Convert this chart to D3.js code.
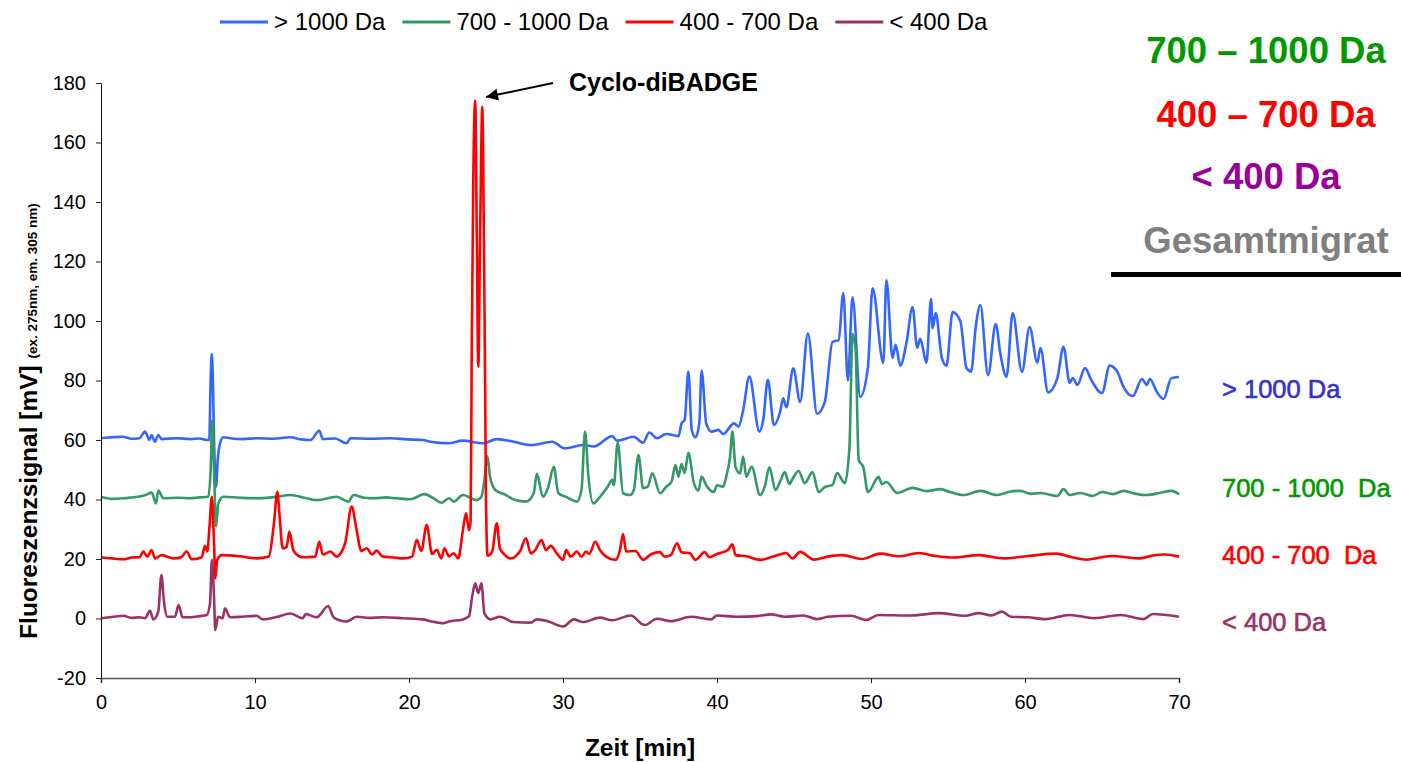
<!DOCTYPE html>
<html>
<head>
<meta charset="utf-8">
<script src="https://cdn.jsdelivr.net/npm/d3@7"></script>
<style>
  html, body { margin: 0; padding: 0; background: #fff; }
  svg text { font-family: "Liberation Sans", Arial, sans-serif; }
</style>
</head>
<body>
<svg id="chart" width="1401" height="762"></svg>
<script>
// Fluorescence traces of the four size fractions, [time in min, signal in mV]
const traceAbove1000 = [
  [0,60.6],[0.7,60.9],[1.4,61.1],[2.0,60.4],[2.5,60.6],[2.86,62.8],[3.14,60],[3.29,61.7],[3.5,59.4],[3.72,61.7],
  [3.94,60.3],[4.9,60.6],[5.8,60.3],[6.4,60.5],[6.86,60],[7.03,60],[7.12,80.2],[7.19,88.9],[7.25,83.5],[7.34,60],
  [7.47,44.3],[7.58,53.3],[7.73,58.9],[7.94,60.9],[8.38,60.6],[9.2,60.3],[10.1,60.6],[11.2,60.4],[12.3,60.9],[13.0,60.2],
  [13.6,60],[14.18,63.1],[14.4,60.3],[15.2,60.5],[15.95,58.9],[16.2,60.6],[17.5,60.4],[18.8,60.6],[19.9,60.2],[20.9,60],
  [21.4,59.4],[22.55,58.9],[23.5,59.8],[24.8,58.9],[25.7,60.3],[26.8,59.4],[27.9,58.3],[29.3,59.4],[30.1,57.2],[31.3,58.3],
  [32.0,57.8],[33.2,61.3],[33.5,59.8],[34.6,61.1],[35.2,59.1],[35.6,62.5],[36.1,60.6],[36.7,62.0],[37.5,61.3],[37.7,65.6],
  [37.9,66.7],[38.14,83.0],[38.36,63.4],[38.6,60.9],[38.85,65.6],[39.0,83.3],[39.3,65.6],[39.65,62.8],[40.1,63.4],[40.4,62.0],
  [41.1,65.6],[41.4,64.5],[41.7,70.1],[42.1,81.3],[42.75,62.8],[43.0,66.7],[43.3,80.2],[43.7,65.0],[44.1,69.5],[44.3,74],
  [44.5,71],[44.95,84.1],[45.4,72.8],[45.9,95.8],[46.5,68.8],[47.0,72.8],[47.5,93],[47.9,93.6],[48.2,109.4],[48.5,80],
  [48.8,108],[49.3,74.5],[49.8,84.5],[50.1,111],[50.8,85.9],[51.0,113.8],[51.4,87.6],[51.6,92],[51.9,85],[52.3,92.6],
  [52.7,104.7],[53.0,91],[53.2,94],[53.6,86],[53.9,107.4],[54.0,97.6],[54.2,102.7],[54.6,87.6],[54.9,85],[55.3,103],
  [55.8,100],[56.2,84.2],[56.5,83],[56.8,98],[57.1,105.4],[57.6,81.8],[58.1,99],[58.4,89],[58.8,81.2],[59.2,102.7],
  [59.8,82.9],[60.3,98],[60.8,86],[61.0,90.9],[61.5,76],[62.1,80.8],[62.5,91.3],[62.9,79.2],[63.1,80.8],[63.4,78.5],
  [63.9,84.2],[64.3,80.2],[65.0,75.8],[65.5,85],[66.0,82.9],[66.4,77.8],[67.0,74.8],[67.6,80.5],[67.9,78.5],[68.1,80.5],
  [68.6,75.8],[69.0,73.8],[69.5,80.8],[70,81.2]
];

const trace700to1000 = [
  [0,40.9],[0.7,40.2],[1.45,40.4],[2.0,40.7],[2.5,41],[2.9,41.5],[3.29,42.3],[3.57,38.7],[3.72,43],[4.05,40.4],
  [5.0,40.6],[5.8,40.4],[6.4,40.7],[6.97,40.9],[7.12,49.9],[7.23,66.7],[7.34,49.9],[7.47,30.9],[7.62,38.7],[7.94,40.9],
  [9.0,40.6],[10.1,40.4],[11.2,40.8],[12.3,41.5],[13.2,40.6],[14.0,39.8],[15.3,40.9],[16.06,39.3],[16.4,41.5],[17.1,40.6],
  [17.8,40.4],[18.5,40.7],[19.2,40.4],[20.1,40.1],[21.0,41.8],[21.6,40.4],[22.1,38.9],[22.6,40.4],[22.9,39.3],[23.5,41.5],
  [24.4,39.8],[24.7,40.9],[24.9,46.6],[25.08,54.6],[25.26,47.7],[25.6,43.2],[26.3,41.5],[26.9,39.8],[27.6,39.3],[28.1,42.1],
  [28.3,48.6],[28.7,40.9],[29.05,44.3],[29.4,51.0],[29.7,42.1],[30.2,40.9],[30.9,39.3],[31.2,43.2],[31.43,62.8],[31.65,47.7],
  [31.97,38.7],[32.4,40.9],[32.9,44.3],[33.2,46.6],[33.3,44.8],[33.55,59.1],[33.9,42.1],[34.35,41.5],[34.6,43.2],[34.9,54.9],
  [35.2,43.8],[35.5,44.3],[35.8,48.8],[36.3,42.1],[36.7,44.3],[37.05,46.0],[37.3,51.6],[37.5,47.7],[37.7,51.9],[37.9,48.9],
  [38.14,55.7],[38.5,45.5],[38.8,43.0],[39.0,47.7],[39.3,44.8],[39.8,42.5],[40.0,44.8],[40.4,44.3],[40.6,47.7],[40.85,54.4],
  [41.0,62.8],[41.2,51.0],[41.5,48.8],[41.7,54.4],[41.9,47.7],[42.25,51.0],[42.8,41.5],[43.1,44.3],[43.4,50.8],[43.8,43.2],
  [44.1,46.0],[44.4,49.2],[44.7,45.2],[44.9,46.9],[45.3,49.6],[45.7,45.5],[46.2,49.2],[46.6,42.5],[47.0,44.2],[47.5,44.9],
  [47.8,48.9],[48.3,45.5],[48.6,57.6],[48.8,95.6],[49.0,90.3],[49.2,53.3],[49.5,50.9],[49.8,42.5],[50.5,47.6],[50.7,45.2],
  [51.0,45.9],[51.7,42.2],[52.7,43.9],[53.6,42.8],[54.5,43.5],[55.2,42.4],[56.0,41.5],[57.1,42.9],[58.2,41.5],[59.0,42.6],
  [59.7,42.9],[60.4,41.9],[61.0,42.2],[62.1,41.2],[62.5,43.5],[62.9,41.5],[63.6,42.2],[64.4,41.2],[65.0,42.5],[65.7,41.8],
  [66.4,42.9],[67.2,41.9],[67.9,41.5],[68.8,42.3],[69.5,42.9],[70,41.8]
];

const trace400to700 = [
  [0,20.6],[0.7,20.2],[1.45,19.9],[2.0,20.5],[2.5,20.6],[2.75,22.5],[3.0,20.8],[3.29,23.0],[3.5,20.2],[3.94,21.3],
  [4.7,20.2],[5.2,20.6],[5.56,22.5],[5.9,19.9],[6.54,20.6],[6.75,24.4],[6.9,22.5],[7.03,29.7],[7.2,40.9],[7.34,25.3],
  [7.42,13.5],[7.55,19.7],[7.84,21.3],[9.0,20.9],[10.1,20.2],[10.9,20.8],[11.23,32],[11.45,42.6],[11.6,34.2],[11.8,23.6],
  [12.05,24],[12.23,29.2],[12.5,22.8],[13.1,20.6],[13.9,20.8],[14.18,25.8],[14.4,21.5],[14.9,22.5],[15.3,20.8],[15.85,25.3],
  [16.28,37.6],[16.6,29.7],[16.9,22.7],[17.25,23.6],[17.6,21.5],[17.9,22.8],[18.3,20.8],[19.0,20.5],[19.6,20.2],[20.2,20.8],
  [20.5,26.4],[20.8,22.8],[21.15,31.4],[21.5,21.7],[21.8,23.1],[22.1,20.2],[22.3,23.6],[22.6,20.9],[22.9,21.9],[23.2,20.2],
  [23.5,29.7],[23.7,35.4],[23.9,29.7],[24.0,32.5],[24.07,87],[24.18,150],[24.3,174],[24.4,130],[24.5,84.6],[24.62,130],
  [24.76,172],[24.86,130],[24.93,87],[25.0,40],[25.1,21.1],[25.4,22.5],[25.7,32.0],[25.9,23.6],[26.2,21.5],[26.6,20.2],
  [27.2,22.5],[27.6,27.0],[27.9,21.9],[28.2,23.0],[28.6,26.4],[28.9,23.0],[29.2,24.4],[29.6,21.9],[30.0,19.7],[30.2,23.0],
  [30.5,20.8],[30.9,22.5],[31.2,20.8],[31.5,22.5],[31.7,21.7],[32.1,25.8],[32.4,23.0],[32.8,20.8],[33.4,19.7],[33.7,23.0],
  [33.9,28.4],[34.1,22.5],[34.7,22.7],[35.2,19.7],[35.75,21.7],[36.3,22.3],[36.6,20.8],[37.0,21.3],[37.4,25.3],[37.7,22.3],
  [38.25,21.9],[38.6,19.7],[39.2,22.3],[39.5,20.6],[40.0,21.7],[40.4,22.3],[40.7,23.0],[41.0,24.9],[41.2,21.3],[41.9,20.9],
  [42.8,19.7],[43.7,20.9],[44.5,22.0],[44.9,20.2],[45.4,22.4],[46.3,19.8],[47.2,20.8],[48.1,21.3],[49.4,20.0],[50.6,21.8],
  [51.8,20.9],[53.1,22.0],[54.2,21.0],[55.4,20.5],[57.0,21.3],[58.6,20.2],[60.2,21.0],[62.0,21.8],[63.0,20.7],[64.0,19.8],
  [65.6,21.0],[67.5,20.2],[68.3,21.2],[69.1,21.5],[70,20.8]
];

const traceBelow400 = [
  [0,0.1],[0.7,0.5],[1.45,0.9],[2.0,0.2],[2.5,0.4],[2.86,0.1],[3.18,2.6],[3.4,-0.3],[3.72,2.3],[3.92,14.6],
  [4.1,5.1],[4.3,0.6],[4.8,0.6],[5.04,4.5],[5.3,0.4],[5.8,0.4],[6.4,0.8],[6.86,1.2],[7.08,5.1],[7.2,19.7],
  [7.34,7.3],[7.42,-3.9],[7.6,0.6],[7.9,0.1],[8.05,3.4],[8.38,0.4],[9.2,0.6],[10.1,0.9],[10.5,-0.3],[11.4,0.5],
  [12.3,1.7],[13.1,0.1],[13.3,1.5],[14.0,0.4],[14.76,4.2],[15.1,0.4],[15.95,-1.0],[16.6,0.6],[17.4,0.2],[18.3,0.4],
  [19.6,0.1],[20.9,-0.3],[21.4,-0.9],[22.2,-1.6],[22.6,-1.0],[23.5,-0.3],[23.9,0.8],[24.1,7.3],[24.3,11.8],[24.5,8.5],
  [24.7,11.8],[24.9,1.7],[25.3,-0.3],[25.9,0.6],[26.8,-1.2],[27.9,-1.4],[28.3,-0.3],[29.0,-0.9],[30.0,-2.7],[30.7,-0.3],
  [31.3,-1.2],[32.4,0.3],[33.2,-0.6],[34.4,1.0],[35.3,-2.2],[36.1,-0.1],[37.0,-0.9],[38.3,0.6],[39.6,-0.3],[40.0,1.0],
  [41.3,0.6],[42.6,0.8],[43.5,1.4],[44.4,0.6],[45.6,1.0],[46.5,-0.2],[47.2,0.6],[48.7,0.9],[49.7,-0.5],[50.5,1.2],
  [52.5,1.0],[54.4,1.8],[56.1,0.9],[57.0,1.8],[57.8,1.0],[58.5,2.3],[59.1,0.6],[60.2,0.4],[61.3,-0.2],[62.9,1.2],
  [64.5,0.1],[66.2,1.2],[67.7,-0.2],[68.3,1.5],[70,0.6]
];

const seriesNames = ["> 1000 Da", "700 - 1000 Da", "400 - 700 Da", "< 400 Da"];
const sideLabels = ["> 1000 Da", "700 - 1000  Da", "400 - 700  Da", "< 400 Da"];
const boxLabels = ["700 – 1000 Da", "400 – 700 Da", "< 400 Da", "Gesamtmigrat"];
const xTicks = [0, 10, 20, 30, 40, 50, 60, 70];
const yTicks = [-20, 0, 20, 40, 60, 80, 100, 120, 140, 160, 180];
const peakLabel = "Cyclo-diBADGE";
const xTitle = "Zeit [min]";
const yTitle = "Fluoreszenzsignal [mV]";
const yTitleNote = "(ex. 275nm, em. 305 nm)";

// ---- styling ----
const traceColors = ["#3366ff", "#339966", "#ff0000", "#993366"];
const sideColors = ["#3333cc", "#009900", "#ff0000", "#993366"];
const boxColors = ["#009900", "#ff0000", "#990099", "#808080"];

const svg = d3.select("#chart");
const plot = { left: 101, right: 1179, top: 83, bottom: 678 };

const x = d3.scaleLinear().domain([0, 70]).range([plot.left, plot.right]);
const y = d3.scaleLinear().domain([-20, 180]).range([plot.bottom, plot.top]);

const traces = [traceAbove1000, trace700to1000, trace400to700, traceBelow400];

// traces
const line = d3.line()
  .x(d => x(d[0]))
  .y(d => y(d[1]))
  .curve(d3.curveMonotoneX);

svg.append("g").selectAll("path")
  .data(traces)
  .join("path")
  .attr("d", line)
  .attr("fill", "none")
  .attr("stroke", (d, i) => traceColors[i])
  .attr("stroke-width", 2.6)
  .attr("stroke-linejoin", "round");

// axes (plain hyphen for negative labels)
const plainNum = d => String(d);

const xAxis = svg.append("g")
  .attr("transform", `translate(0,${plot.bottom})`)
  .call(d3.axisBottom(x).tickValues(xTicks).tickSize(5).tickPadding(12).tickFormat(plainNum));
xAxis.select(".domain").attr("stroke", "#555").attr("stroke-width", 1.6);
xAxis.selectAll(".tick line").attr("stroke", "#222");
xAxis.selectAll("text").attr("font-size", 20).attr("fill", "#000");

const yAxis = svg.append("g")
  .attr("transform", `translate(${plot.left},0)`)
  .call(d3.axisLeft(y).tickValues(yTicks).tickSize(5).tickPadding(10).tickFormat(plainNum));
yAxis.select(".domain").attr("stroke", "#111");
yAxis.selectAll(".tick line").attr("stroke", "#222");
yAxis.selectAll("text").attr("font-size", 20).attr("fill", "#000");

// axis titles
svg.append("text")
  .attr("x", 640).attr("y", 756)
  .attr("text-anchor", "middle")
  .attr("font-size", 24.5).attr("font-weight", "bold")
  .text(xTitle);

const yt = svg.append("text")
  .attr("transform", "translate(37,421) rotate(-90)")
  .attr("text-anchor", "middle")
  .attr("font-weight", "bold");
yt.append("tspan").attr("font-size", 24.5).text(yTitle + " ");
yt.append("tspan").attr("font-size", 13.5).text(yTitleNote);

// legend
const legend = svg.append("g");
let lx = 220;
seriesNames.forEach((name, i) => {
  legend.append("line")
    .attr("x1", lx).attr("x2", lx + 48)
    .attr("y1", 22).attr("y2", 22)
    .attr("stroke", traceColors[i]).attr("stroke-width", 3);
  const t = legend.append("text")
    .attr("x", lx + 54).attr("y", 30)
    .attr("font-size", 24)
    .text(name);
  lx += 54 + t.node().getComputedTextLength() + 17;
});

// annotation for the dominant peak
svg.append("defs").append("marker")
  .attr("id", "arrowHead")
  .attr("viewBox", "0 0 10 10")
  .attr("refX", 10).attr("refY", 5)
  .attr("markerWidth", 15).attr("markerHeight", 12)
  .attr("markerUnits", "userSpaceOnUse")
  .attr("orient", "auto")
  .append("path").attr("d", "M0,0 L10,5 L0,10 Z").attr("fill", "#000");

svg.append("line")
  .attr("x1", 553).attr("y1", 83)
  .attr("x2", 486).attr("y2", 97)
  .attr("stroke", "#000").attr("stroke-width", 2)
  .attr("marker-end", "url(#arrowHead)");

svg.append("text")
  .attr("x", 569).attr("y", 91)
  .attr("font-size", 25).attr("font-weight", "bold")
  .text(peakLabel);

// labels beside each trace
const sideY = [398, 497, 564, 631];
sideLabels.forEach((s, i) => {
  svg.append("text")
    .attr("x", 1222).attr("y", sideY[i])
    .attr("font-size", 25.5)
    .attr("fill", sideColors[i])
    .attr("stroke", sideColors[i])
    .attr("stroke-width", 0.6)
    .style("white-space", "pre")
    .text(s);
});

// fraction box, top right
const boxY = [63, 127, 189, 253];
boxLabels.forEach((s, i) => {
  svg.append("text")
    .attr("x", 1266).attr("y", boxY[i])
    .attr("text-anchor", "middle")
    .attr("font-size", 36.5).attr("font-weight", "bold")
    .attr("fill", boxColors[i])
    .text(s);
});
svg.append("line")
  .attr("x1", 1111).attr("x2", 1401)
  .attr("y1", 274.5).attr("y2", 274.5)
  .attr("stroke", "#000").attr("stroke-width", 5);
</script>
</body>
</html>
